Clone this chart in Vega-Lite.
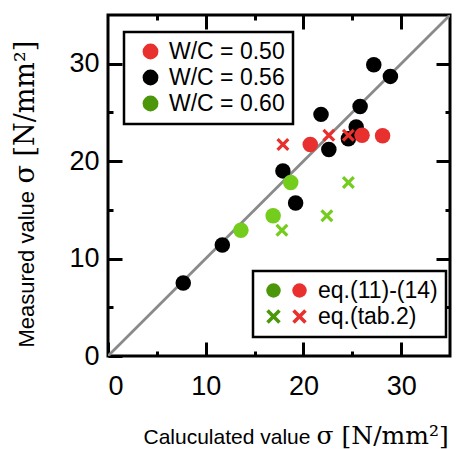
{
  "$schema": "https://vega.github.io/schema/vega-lite/v6.json",
  "width": 342,
  "height": 341,
  "autosize": "none",
  "padding": {"left": 108, "top": 15, "right": 12, "bottom": 93},
  "config": {
    "view": {"stroke": "black", "strokeWidth": 3},
    "font": "Liberation Sans",
    "axis": {
      "domain": false, "grid": false,
      "tickColor": "black", "tickWidth": 3,
      "labelFont": "Liberation Sans", "labelFontSize": 27, "labelColor": "black",
      "titleFont": "Liberation Sans", "titleFontSize": 22, "titleFontWeight": "normal", "titleColor": "black"
    },
    "legend": {
      "strokeWidth": 2.5,
      "labelFont": "Liberation Sans", "labelFontSize": 23, "labelColor": "black",
      "titleFontSize": 0, "symbolOpacity": 1, "symbolStrokeWidth": 0
    }
  },
  "datasets": {
    "diag": [{"x": 0, "y": 0}, {"x": 35, "y": 35}],
    "pts": [
      {"calc": 7.7, "meas": 7.5, "wc": "0.56", "method": "eq.(11)-(14)"},
      {"calc": 11.7, "meas": 11.4, "wc": "0.56", "method": "eq.(11)-(14)"},
      {"calc": 17.9, "meas": 19.0, "wc": "0.56", "method": "eq.(11)-(14)"},
      {"calc": 19.2, "meas": 15.7, "wc": "0.56", "method": "eq.(11)-(14)"},
      {"calc": 21.8, "meas": 24.8, "wc": "0.56", "method": "eq.(11)-(14)"},
      {"calc": 22.6, "meas": 21.2, "wc": "0.56", "method": "eq.(11)-(14)"},
      {"calc": 24.6, "meas": 22.3, "wc": "0.56", "method": "eq.(11)-(14)"},
      {"calc": 25.4, "meas": 23.5, "wc": "0.56", "method": "eq.(11)-(14)"},
      {"calc": 25.8, "meas": 25.6, "wc": "0.56", "method": "eq.(11)-(14)"},
      {"calc": 27.2, "meas": 29.9, "wc": "0.56", "method": "eq.(11)-(14)"},
      {"calc": 28.9, "meas": 28.7, "wc": "0.56", "method": "eq.(11)-(14)"},
      {"calc": 20.7, "meas": 21.7, "wc": "0.50", "method": "eq.(11)-(14)"},
      {"calc": 26.0, "meas": 22.65, "wc": "0.50", "method": "eq.(11)-(14)"},
      {"calc": 28.1, "meas": 22.6, "wc": "0.50", "method": "eq.(11)-(14)"},
      {"calc": 13.6, "meas": 12.9, "wc": "0.60", "method": "eq.(11)-(14)"},
      {"calc": 16.9, "meas": 14.4, "wc": "0.60", "method": "eq.(11)-(14)"},
      {"calc": 18.7, "meas": 17.8, "wc": "0.60", "method": "eq.(11)-(14)"},
      {"calc": 17.9, "meas": 21.7, "wc": "0.50", "method": "eq.(tab.2)"},
      {"calc": 22.6, "meas": 22.65, "wc": "0.50", "method": "eq.(tab.2)"},
      {"calc": 24.6, "meas": 22.65, "wc": "0.50", "method": "eq.(tab.2)"},
      {"calc": 17.8, "meas": 12.9, "wc": "0.60", "method": "eq.(tab.2)"},
      {"calc": 22.4, "meas": 14.4, "wc": "0.60", "method": "eq.(tab.2)"},
      {"calc": 24.6, "meas": 17.8, "wc": "0.60", "method": "eq.(tab.2)"}
    ]
  },
  "layer": [
    {
      "data": {"name": "diag"},
      "mark": {"type": "line", "color": "#8a8a8a", "strokeWidth": 2.8, "clip": true},
      "encoding": {
        "x": {"field": "x", "type": "quantitative", "scale": {"domain": [0, 35], "nice": false},
          "axis": {"orient": "bottom", "values": [0, 10, 20, 30], "tickSize": -14, "labelPadding": 31,
            "title": "Caluculated value", "titleFontSize": 21, "titleX": 35, "titleY": 87, "titleAlign": "left", "titleBaseline": "alphabetic"}},
        "y": {"field": "y", "type": "quantitative", "scale": {"domain": [0, 35], "nice": false},
          "axis": {"orient": "left", "values": [0, 10, 20, 30], "tickSize": -14, "labelPadding": 23,
            "title": "Measured value", "titleAngle": -90, "titleX": -75, "titleY": 332, "titleAlign": "left", "titleBaseline": "alphabetic"}}
      }
    },
    {
      "data": {"name": "pts"},
      "transform": [{"filter": "datum.method === 'eq.(11)-(14)'"}],
      "mark": {"type": "point", "filled": true, "size": 240, "opacity": 1},
      "encoding": {
        "x": {"field": "calc", "type": "quantitative",
          "axis": {"orient": "top", "values": [10, 20, 30], "tickSize": -14, "labels": false, "title": null}},
        "y": {"field": "meas", "type": "quantitative",
          "axis": {"orient": "right", "values": [10, 20, 30], "tickSize": -14, "labels": false, "title": null}},
        "color": {"field": "wc", "type": "nominal",
          "scale": {"domain": ["0.50", "0.56", "0.60"], "range": ["#e8302e", "#000000", "#74cc1c"]},
          "legend": null}
      }
    },
    {
      "data": {"name": "pts"},
      "transform": [{"filter": "datum.method === 'eq.(tab.2)' && datum.wc === '0.60'"}],
      "mark": {"type": "point", "filled": true, "size": 169, "color": "#74cc1c", "opacity": 1,
        "shape": "M0,-0.35L0.65,-1L1,-0.65L0.35,0L1,0.65L0.65,1L0,0.35L-0.65,1L-1,0.65L-0.35,0L-1,-0.65L-0.65,-1Z"},
      "encoding": {
        "x": {"field": "calc", "type": "quantitative",
          "axis": {"orient": "bottom", "values": [5, 15, 25], "tickSize": -5, "labels": false,
            "title": "σ [N/mm²]", "titleFont": "DejaVu Serif", "titleFontSize": 25, "titleX": 208, "titleY": 87, "titleAlign": "left", "titleBaseline": "alphabetic"}},
        "y": {"field": "meas", "type": "quantitative",
          "axis": {"orient": "left", "values": [5, 15, 25], "tickSize": -5, "labels": false,
            "title": "σ [N/mm²]", "titleFont": "DejaVu Serif", "titleFontSize": 27, "titleAngle": -90, "titleX": -75, "titleY": 168, "titleAlign": "left", "titleBaseline": "alphabetic"}}
      }
    },
    {
      "data": {"name": "pts"},
      "transform": [{"filter": "datum.method === 'eq.(tab.2)' && datum.wc === '0.50'"}],
      "mark": {"type": "point", "filled": true, "size": 169, "color": "#e8302e", "opacity": 1,
        "shape": "M0,-0.35L0.65,-1L1,-0.65L0.35,0L1,0.65L0.65,1L0,0.35L-0.65,1L-1,0.65L-0.35,0L-1,-0.65L-0.65,-1Z"},
      "encoding": {
        "x": {"field": "calc", "type": "quantitative",
          "axis": {"orient": "top", "values": [5, 15, 25], "tickSize": -5, "labels": false, "title": null}},
        "y": {"field": "meas", "type": "quantitative",
          "axis": {"orient": "right", "values": [5, 15, 25], "tickSize": -5, "labels": false, "title": null}}
      }
    },
    {
      "data": {"name": "pts"},
      "transform": [{"filter": "datum.method === 'eq.(11)-(14)'"}],
      "mark": {"type": "point", "filled": true, "size": 240, "opacity": 0},
      "encoding": {
        "x": {"field": "calc", "type": "quantitative", "axis": null},
        "y": {"field": "meas", "type": "quantitative", "axis": null},
        "color": {"field": "wc", "type": "nominal",
          "scale": {"domain": ["0.50", "0.56", "0.60"], "range": ["#e8302e", "#000000", "#4b960a"]},
          "legend": {"title": null, "orient": "none", "legendX": 16, "legendY": 17, "strokeColor": "black", "padding": 8, "symbolOffset": 7, "symbolSize": 250, "symbolType": "circle", "symbolOpacity": 1, "labelOffset": 7, "rowPadding": 2, "labelExpr": "'W/C = ' + datum.label"}
        }
      }
    },
    {
      "data": {"name": "pts"},
      "transform": [{"filter": "datum.method === 'eq.(tab.2)' && datum.wc === '0.60'"}],
      "mark": {"type": "point", "filled": true, "size": 169, "color": "#4b960a", "opacity": 0},
      "encoding": {
        "x": {"field": "calc", "type": "quantitative", "axis": null},
        "y": {"field": "meas", "type": "quantitative", "axis": null},
        "shape": {"field": "method", "type": "nominal",
          "scale": {"domain": ["eq.(11)-(14)", "eq.(tab.2)"], "range": ["circle", "M0,-0.35L0.65,-1L1,-0.65L0.35,0L1,0.65L0.65,1L0,0.35L-0.65,1L-1,0.65L-0.35,0L-1,-0.65L-0.65,-1Z"]},
          "legend": {"title": null, "orient": "none", "legendX": 145, "legendY": 256, "strokeColor": "black", "padding": 8, "symbolOffset": 1, "symbolSize": 210, "symbolOpacity": 1, "labelOffset": 33, "rowPadding": 2, "labelColor": "transparent"}
        }
      }
    },
    {
      "data": {"name": "pts"},
      "transform": [{"filter": "datum.method === 'eq.(tab.2)' && datum.wc === '0.50'"}],
      "mark": {"type": "point", "filled": true, "size": 169, "color": "#e8302e", "opacity": 0},
      "encoding": {
        "x": {"field": "calc", "type": "quantitative", "axis": null},
        "y": {"field": "meas", "type": "quantitative", "axis": null},
        "shape": {"field": "method", "type": "nominal",
          "scale": {"domain": ["eq.(11)-(14)", "eq.(tab.2)"], "range": ["circle", "M0,-0.35L0.65,-1L1,-0.65L0.35,0L1,0.65L0.65,1L0,0.35L-0.65,1L-1,0.65L-0.35,0L-1,-0.65L-0.65,-1Z"]},
          "legend": {"title": null, "orient": "none", "legendX": 171, "legendY": 256, "padding": 8, "symbolOffset": 1, "symbolSize": 210, "symbolOpacity": 1, "labelOffset": 7, "rowPadding": 2}
        }
      }
    }
  ],
  "resolve": {
    "axis": {"x": "independent", "y": "independent"},
    "scale": {"shape": "independent", "color": "independent"},
    "legend": {"shape": "independent", "color": "independent"}
  }
}
